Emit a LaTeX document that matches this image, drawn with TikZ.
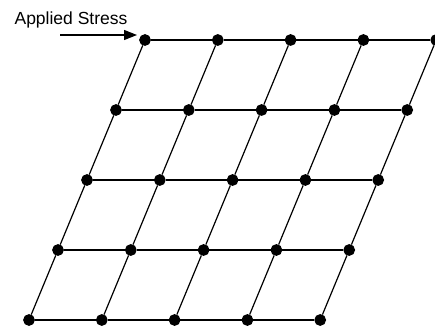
\documentclass[tikz,border=0pt]{standalone}
\usepackage{fontspec}
\setmainfont{Liberation Sans}
\usetikzlibrary{arrows.meta}
\begin{document}
\begin{tikzpicture}[x=1pt,y=-1pt,line width=1.2pt]
\useasboundingbox (0,0) rectangle (435,328);
\tikzset{atom/.style={draw, circle, fill, inner sep=0pt, minimum size=10.5pt}}
\foreach \r in {0,...,4}
  \foreach \c in {0,...,4}
    \node[atom] (a-\r-\c) at ({145-29*\r+72.8*\c},{40+70*\r}) {};
\foreach \r in {0,...,4}
  \foreach \c [count=\n] in {0,...,3}
    \draw (a-\r-\c) -- (a-\r-\n);
\foreach \r [count=\n] in {0,...,3}
  \foreach \c in {0,...,4}
    \draw (a-\r-\c) -- (a-\n-\c);
\node[font=\fontsize{17.5}{19}\selectfont] (label) at (71,20) {Applied Stress};
\coordinate (start) at (60,35);
\draw[-{Triangle[length=13pt,width=10pt]}, shorten >=8pt] (start) -- (a-0-0.center |- start);
\end{tikzpicture}
\end{document}
